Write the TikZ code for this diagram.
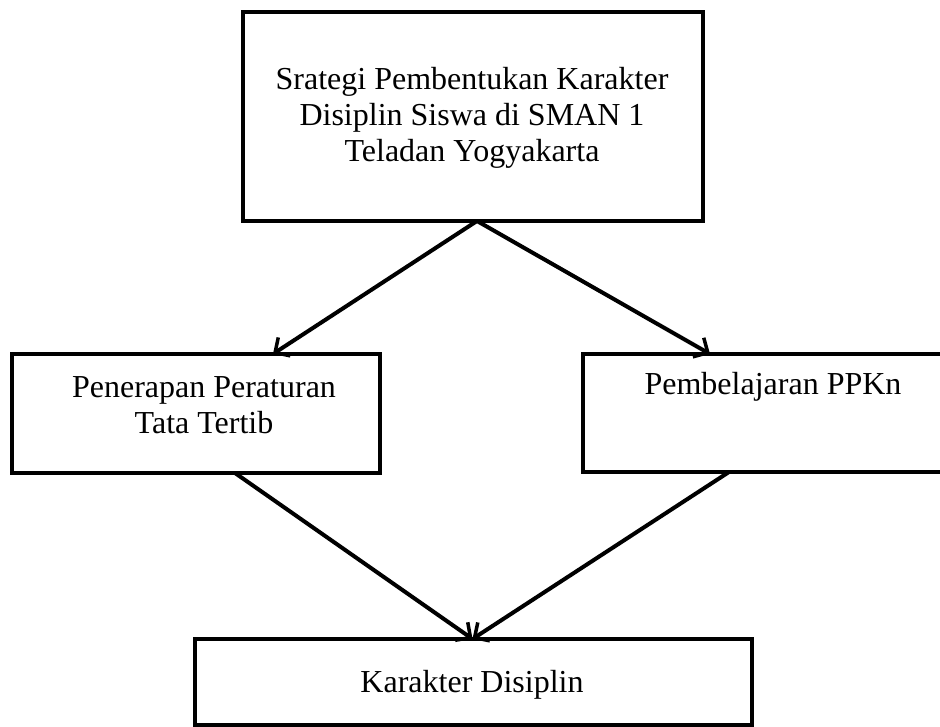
\documentclass[tikz,border=0pt]{standalone}
\usepackage{fontspec}
\setmainfont{Liberation Serif}
\usetikzlibrary{arrows.meta}
\begin{document}
\begin{tikzpicture}[x=1pt,y=1pt,
  boxstyle/.style={draw=black, line width=4pt, rectangle, inner sep=0pt, outer sep=0pt},
  txt/.style={align=center, inner sep=0pt, font=\fontsize{32}{36}\selectfont},
  conn/.style={line width=4pt, -{Straight Barb[length=11pt,width=22pt,line width=3.5pt]}}
]
\useasboundingbox (0,0) rectangle (940,727);
\clip (0,0) rectangle (940,727);
\fill[white] (0,0) rectangle (940,727);
\node[boxstyle, minimum width=460pt, minimum height=209pt] (top) at (473,610.5) {};
\node[boxstyle, minimum width=368pt, minimum height=119pt] (left) at (196,313.5) {};
\node[boxstyle, minimum width=380pt, minimum height=118pt] (right) at (773,314) {};
\node[boxstyle, minimum width=557pt, minimum height=86pt] (bottom) at (473.5,45) {};
\node[txt] (toptxt) at (472,609) {Srategi Pembentukan Karakter\\Disiplin Siswa di SMAN 1\\Teladan Yogyakarta};
\node[txt] (lefttxt) at (204,322) {Penerapan Peraturan\\Tata Tertib};
\node[txt] (righttxt) at (773,340) {Pembelajaran PPKn};
\node[txt] (bottomtxt) at (472,42) {Karakter Disiplin};
\draw[conn] ([xshift=4pt]top.south) -- ([xshift=77pt]left.north);
\draw[conn] ([xshift=4pt]top.south) -- ([xshift=-63pt]right.north);
\draw[conn] ([xshift=39pt]left.south) -- ([xshift=-1pt]bottom.north);
\draw[conn] ([xshift=-44pt]right.south) -- ([xshift=-1pt]bottom.north);
\end{tikzpicture}
\end{document}
